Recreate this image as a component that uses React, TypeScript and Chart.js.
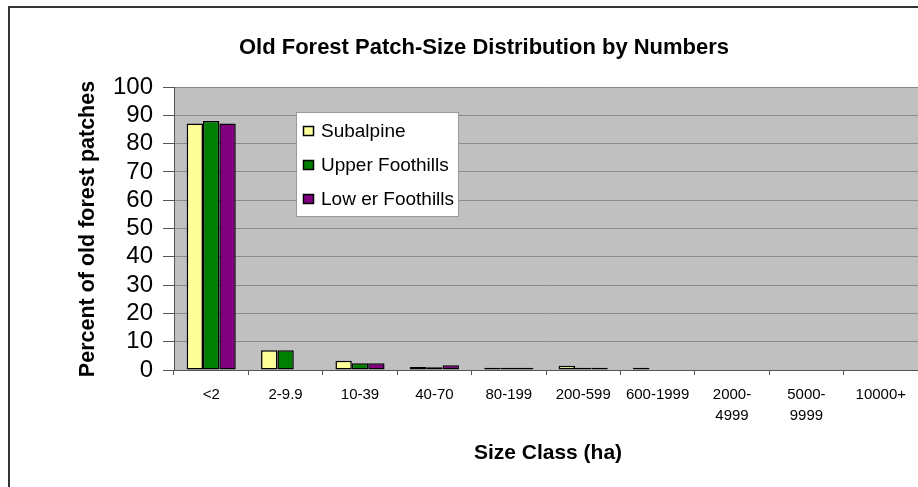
import React, { useEffect, useRef } from "react";
import { Chart, registerables } from "chart.js";

Chart.register(...registerables);

const categories: (string | string[])[] = [
  "<2", "2-9.9", "10-39", "40-70", "80-199", "200-599", "600-1999",
  ["2000-", "4999"], ["5000-", "9999"], "10000+",
];
const subalpine: (number | null)[] = [87.1, 7.0, 3.3, 1.1, 0.8, 1.5, 0.8, null, null, null];
const upperFoothills: (number | null)[] = [88.0, 7.0, 2.4, 1.0, 0.8, 0.8, null, null, null, null];
const lowerFoothills: (number | null)[] = [87.1, null, 2.4, 1.7, 0.8, 0.8, null, null, null, null];
const yTicks: number[] = [0, 10, 20, 30, 40, 50, 60, 70, 80, 90, 100];
const seriesNames = ["Subalpine", "Upper Foothills", "Low er Foothills"];
const seriesColors = ["#ffff99", "#008000", "#800080"];
const chartTitle = "Old Forest Patch-Size Distribution by Numbers";
const yTitle = "Percent of old forest patches";
const xTitle = "Size Class (ha)";

const FONT = 'Arial, "Liberation Sans", sans-serif';

const decorPlugin = {
  id: "decor",
  beforeDraw(chart: any) {
    const { ctx, chartArea } = chart;
    ctx.save();
    ctx.fillStyle = "#ffffff";
    ctx.fillRect(0, 0, chart.width, chart.height);
    ctx.fillStyle = "#c0c0c0";
    ctx.fillRect(chartArea.left, chartArea.top, chartArea.right - chartArea.left, chartArea.bottom - chartArea.top);
    ctx.restore();
  },
  afterDraw(chart: any) {
    const { ctx } = chart;
    ctx.save();
    ctx.strokeStyle = "#333333";
    ctx.lineWidth = 2;
    ctx.beginPath();
    ctx.moveTo(9, chart.height);
    ctx.lineTo(9, 7);
    ctx.lineTo(chart.width, 7);
    ctx.stroke();

    ctx.fillStyle = "#000";
    ctx.textAlign = "center";
    ctx.textBaseline = "middle";
    ctx.font = `bold 22px ${FONT}`;
    ctx.fillText(chartTitle, 484, 48);
    ctx.font = `bold 21px ${FONT}`;
    ctx.fillText(xTitle, 548, 453);
    ctx.save();
    ctx.translate(88, 229);
    ctx.rotate(-Math.PI / 2);
    ctx.font = `bold 21.5px ${FONT}`;
    ctx.fillText(yTitle, 0, 0);
    ctx.restore();

    const lx = 296, ly = 112, lw = 162, lh = 104;
    ctx.fillStyle = "#ffffff";
    ctx.fillRect(lx, ly, lw, lh);
    ctx.strokeStyle = "#999999";
    ctx.lineWidth = 1;
    ctx.strokeRect(lx + 0.5, ly + 0.5, lw, lh);
    const rows = [131, 165, 199];
    ctx.font = `19px ${FONT}`;
    ctx.textAlign = "left";
    seriesNames.forEach((name, i) => {
      ctx.fillStyle = seriesColors[i];
      ctx.fillRect(303, rows[i] - 5, 11, 10);
      ctx.strokeStyle = "#000";
      ctx.lineWidth = 1.5;
      ctx.strokeRect(303.5, rows[i] - 4.5, 10, 9);
      ctx.fillStyle = "#000";
      ctx.fillText(name, 321, rows[i] + 1);
    });
    ctx.restore();
  },
};

export default function App() {
  const ref = useRef<HTMLCanvasElement>(null);
  useEffect(() => {
    if (!ref.current) return;
    const data = [subalpine, upperFoothills, lowerFoothills];
    const chart = new Chart(ref.current, {
      type: "bar",
      data: {
        labels: categories,
        datasets: data.map((d, i) => ({
          label: seriesNames[i],
          data: d,
          backgroundColor: seriesColors[i],
          borderColor: "#000",
          borderWidth: 1.5,
          borderSkipped: false,
          categoryPercentage: 0.66,
          barPercentage: 1.0,
        })),
      },
      options: {
        responsive: false,
        animation: false,
        devicePixelRatio: 1,
        layout: { padding: { top: 87, left: 0, right: 0, bottom: 0 } },
        plugins: {
          legend: { display: false },
          title: { display: false },
          tooltip: { enabled: false },
        },
        scales: {
          x: {
            offset: true,
            grid: {
              drawOnChartArea: false,
              drawTicks: true,
              tickLength: 5,
              tickColor: "#555",
              offset: true,
            },
            border: { display: true, color: "#555", width: 1 },
            ticks: {
              color: "#000",
              font: { family: FONT, size: 15, lineHeight: 1.4 },
              padding: 9,
              maxRotation: 0,
              autoSkip: false,
            },
            afterFit(scale: any) {
              scale.height = 117;
            },
          },
          y: {
            min: 0,
            max: 100,
            afterBuildTicks(scale: any) {
              scale.ticks = yTicks.map((v) => ({ value: v }));
            },
            grid: {
              color: "#8a8a8a",
              tickColor: "#555",
              tickLength: 11,
            },
            border: { display: true, color: "#555", width: 1 },
            ticks: {
              autoSkip: false,
              color: "#000",
              font: { family: FONT, size: 24 },
              padding: 10,
            },
            afterFit(scale: any) {
              scale.width = 174;
            },
          },
        },
      },
      plugins: [decorPlugin],
    } as any);
    return () => chart.destroy();
  }, []);
  return (
    <div style={{ position: "absolute", left: 0, top: 0, width: 918, height: 487 }}>
      <canvas ref={ref} width={918} height={487} style={{ width: 918, height: 487 }} />
    </div>
  );
}
